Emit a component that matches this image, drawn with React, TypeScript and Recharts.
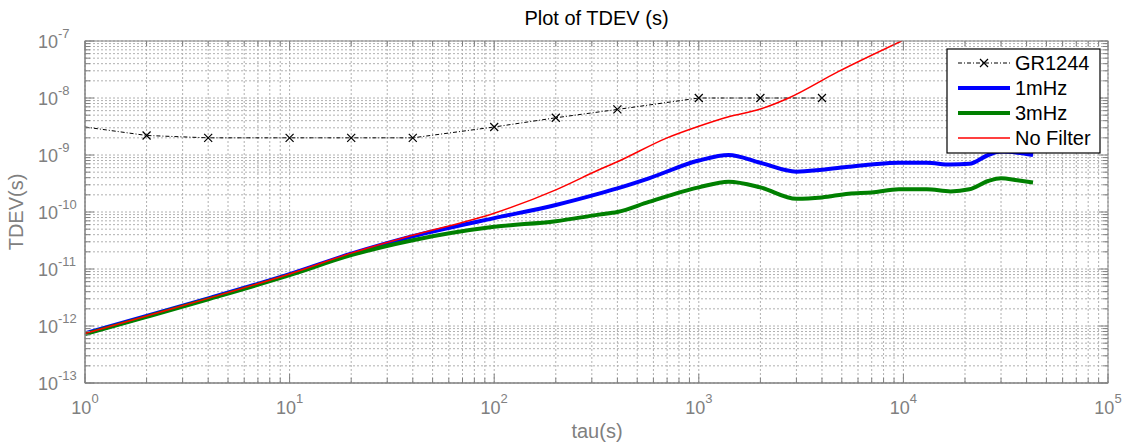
import { LineChart, Line, XAxis, YAxis, CartesianGrid } from "recharts"

// tau samples and TDEV values
const GR_TAU = [1, 2, 4, 10, 20, 40, 100, 200, 400, 1000, 2000, 4000]
const GR_TDEV = [3.1e-9, 2.2e-9, 2.0e-9, 2.0e-9, 2.0e-9, 2.0e-9, 3.1e-9, 4.5e-9, 6.3e-9, 1.0e-8, 1.0e-8, 1.0e-8]

const FILT_TAU = [
  1, 2, 4, 10, 20, 40, 100, 200, 325, 400, 570, 1000, 1400, 2000, 3000, 4000, 5400, 7000, 9500, 13000, 17000,
  21000, 26000, 30000, 36000, 43000,
]
const TDEV_1MHZ = [
  7.4e-13, 1.5e-12, 3.05e-12, 8.1e-12, 1.85e-11, 3.75e-11, 7.8e-11, 1.33e-10, 2.1e-10, 2.6e-10, 3.9e-10, 8.0e-10,
  1.0e-9, 7.3e-10, 5.1e-10, 5.5e-10, 6.2e-10, 6.8e-10, 7.3e-10, 7.3e-10, 6.8e-10, 7.0e-10, 1.0e-9, 1.15e-9, 1.1e-9,
  1.0e-9,
]
const TDEV_3MHZ = [
  7.2e-13, 1.45e-12, 2.95e-12, 7.8e-12, 1.75e-11, 3.2e-11, 5.5e-11, 6.9e-11, 9.0e-11, 1.0e-10, 1.5e-10, 2.7e-10,
  3.4e-10, 2.7e-10, 1.7e-10, 1.8e-10, 2.1e-10, 2.2e-10, 2.5e-10, 2.5e-10, 2.3e-10, 2.5e-10, 3.5e-10, 3.9e-10, 3.6e-10,
  3.3e-10,
]

const RAW_TAU = [1, 2, 4, 10, 20, 40, 100, 200, 325, 400, 700, 1000, 1400, 2000, 2750, 4800, 9800]
const TDEV_RAW = [
  7.4e-13, 1.5e-12, 3.05e-12, 8.2e-12, 1.9e-11, 3.9e-11, 9.5e-11, 2.45e-10, 5.5e-10, 7.6e-10, 2.0e-9, 3.2e-9, 4.7e-9,
  6.4e-9, 1.0e-8, 2.9e-8, 1.0e-7,
]

const X_DECADES = [0, 1, 2, 3, 4, 5]
const Y_DECADES = [-13, -12, -11, -10, -9, -8, -7]

const zip = (t: number[], v: number[]) => t.map((tau, i) => ({ tau, v: v[i] }))
const grData = zip(GR_TAU, GR_TDEV)
const mhz1Data = zip(FILT_TAU, TDEV_1MHZ)
const mhz3Data = zip(FILT_TAU, TDEV_3MHZ)
const rawData = zip(RAW_TAU, TDEV_RAW)

function logTicks(decades: number[]) {
  const out: number[] = []
  decades.forEach((k, i) => {
    if (i === decades.length - 1) {
      out.push(Number(`1e${k}`))
      return
    }
    for (let m = 1; m <= 9; m++) out.push(Number(`${m}e${k}`))
  })
  return out
}
const xTicks = logTicks(X_DECADES)
const yTicks = logTicks(Y_DECADES)

const W = 1129
const H = 448
const PL = 85
const PR = 1108
const PT = 41
const PB = 383
const GRAY = "#808080"
const FONT = "'Liberation Sans', Arial, Helvetica, sans-serif"

const decadeOf = (v: number) => {
  const l = Math.log10(v)
  return Math.abs(l - Math.round(l)) < 1e-6 ? Math.round(l) : null
}

function XTick(props: any) {
  const { x, payload } = props
  const k = decadeOf(payload.value)
  const len = k !== null ? 9 : 5
  return (
    <g>
      <line x1={x} x2={x} y1={PB} y2={PB - len} stroke={GRAY} />
      <line x1={x} x2={x} y1={PT} y2={PT + len} stroke={GRAY} />
      {k !== null && (
        <text x={x} y={PB + 31} textAnchor="middle" fill={GRAY} fontSize={18} fontFamily={FONT}>
          10
          <tspan dy={-11} fontSize={13}>
            {k}
          </tspan>
        </text>
      )}
    </g>
  )
}

function YTick(props: any) {
  const { y, payload } = props
  const k = decadeOf(payload.value)
  const len = k !== null ? 9 : 5
  return (
    <g>
      <line x1={PL} x2={PL + len} y1={y} y2={y} stroke={GRAY} />
      <line x1={PR} x2={PR - len} y1={y} y2={y} stroke={GRAY} />
      {k !== null && (
        <text x={38} y={y + 6.5} textAnchor="start" fill={GRAY} fontSize={18} fontFamily={FONT}>
          10
          <tspan dy={-10} fontSize={13}>
            {k}
          </tspan>
        </text>
      )}
    </g>
  )
}

function Cross(props: any) {
  const { cx, cy, index } = props
  if (index === 0 || cx == null || cy == null) return <g key={`m${index}`} />
  const s = 4
  return (
    <path
      key={`m${index}`}
      d={`M${cx - s},${cy - s}L${cx + s},${cy + s}M${cx - s},${cy + s}L${cx + s},${cy - s}`}
      stroke="#000"
      strokeWidth={1.2}
      fill="none"
    />
  )
}

const legendItems = [
  { name: "GR1244", color: "#000", width: 1, dash: "4 2 1 2", marker: true },
  { name: "1mHz", color: "#0000ff", width: 4, dash: undefined, marker: false },
  { name: "3mHz", color: "#008000", width: 4, dash: undefined, marker: false },
  { name: "No Filter", color: "#ff0000", width: 1.5, dash: undefined, marker: false },
]

export default function App() {
  return (
    <div style={{ position: "absolute", left: 0, top: 0, width: W, height: H, background: "#fff" }}>
      <LineChart width={W} height={H} margin={{ top: PT, right: W - PR, bottom: 0, left: 0 }}>
        <CartesianGrid stroke="#b0b0b0" strokeDasharray="2 2" />
        <XAxis
          dataKey="tau"
          type="number"
          scale="log"
          domain={[1, 100000]}
          allowDataOverflow
          ticks={xTicks}
          interval={0}
          height={H - PB}
          tick={XTick}
          tickLine={false}
          axisLine={{ stroke: GRAY }}
        />
        <YAxis
          type="number"
          scale="log"
          domain={[1e-13, 1e-7]}
          allowDataOverflow
          ticks={yTicks}
          interval={0}
          width={PL}
          tick={YTick}
          tickLine={false}
          axisLine={{ stroke: GRAY }}
        />
        <Line
          data={grData}
          dataKey="v"
          type="linear"
          stroke="#000"
          strokeWidth={1}
          strokeDasharray="4 2 1 2"
          dot={Cross}
          activeDot={false}
          isAnimationActive={false}
        />
        <Line
          data={mhz1Data}
          dataKey="v"
          type="monotone"
          stroke="#0000ff"
          strokeWidth={4}
          dot={false}
          activeDot={false}
          isAnimationActive={false}
        />
        <Line
          data={mhz3Data}
          dataKey="v"
          type="monotone"
          stroke="#008000"
          strokeWidth={4}
          dot={false}
          activeDot={false}
          isAnimationActive={false}
        />
        <Line
          data={rawData}
          dataKey="v"
          type="monotone"
          stroke="#ff0000"
          strokeWidth={1.5}
          dot={false}
          activeDot={false}
          isAnimationActive={false}
        />
      </LineChart>
      <svg
        width={W}
        height={H}
        style={{ position: "absolute", left: 0, top: 0, pointerEvents: "none" }}
        fontFamily={FONT}
      >
        <rect x={PL} y={PT} width={PR - PL} height={PB - PT} fill="none" stroke={GRAY} />
        <text x={(PL + PR) / 2} y={25} textAnchor="middle" fontSize={20} fill="#000">
          Plot of TDEV (s)
        </text>
        <text x={597} y={438} textAnchor="middle" fontSize={20} fill={GRAY}>
          tau(s)
        </text>
        <text x={23} y={212} textAnchor="middle" fontSize={20} fill={GRAY} transform="rotate(-90 23 212)">
          TDEV(s)
        </text>
        <rect x={947} y={49} width={153} height={104} fill="#fff" stroke="#000" strokeWidth={1.2} />
        {legendItems.map((it, i) => {
          const cy = 63 + i * 25
          return (
            <g key={it.name}>
              <line x1={958} x2={1010} y1={cy} y2={cy} stroke={it.color} strokeWidth={it.width} strokeDasharray={it.dash} />
              {it.marker && (
                <path d={`M980,${cy - 4}L988,${cy + 4}M980,${cy + 4}L988,${cy - 4}`} stroke="#000" strokeWidth={1.2} />
              )}
              <text x={1015} y={cy + 7} fontSize={20} fill="#000">
                {it.name}
              </text>
            </g>
          )
        })}
      </svg>
    </div>
  )
}
